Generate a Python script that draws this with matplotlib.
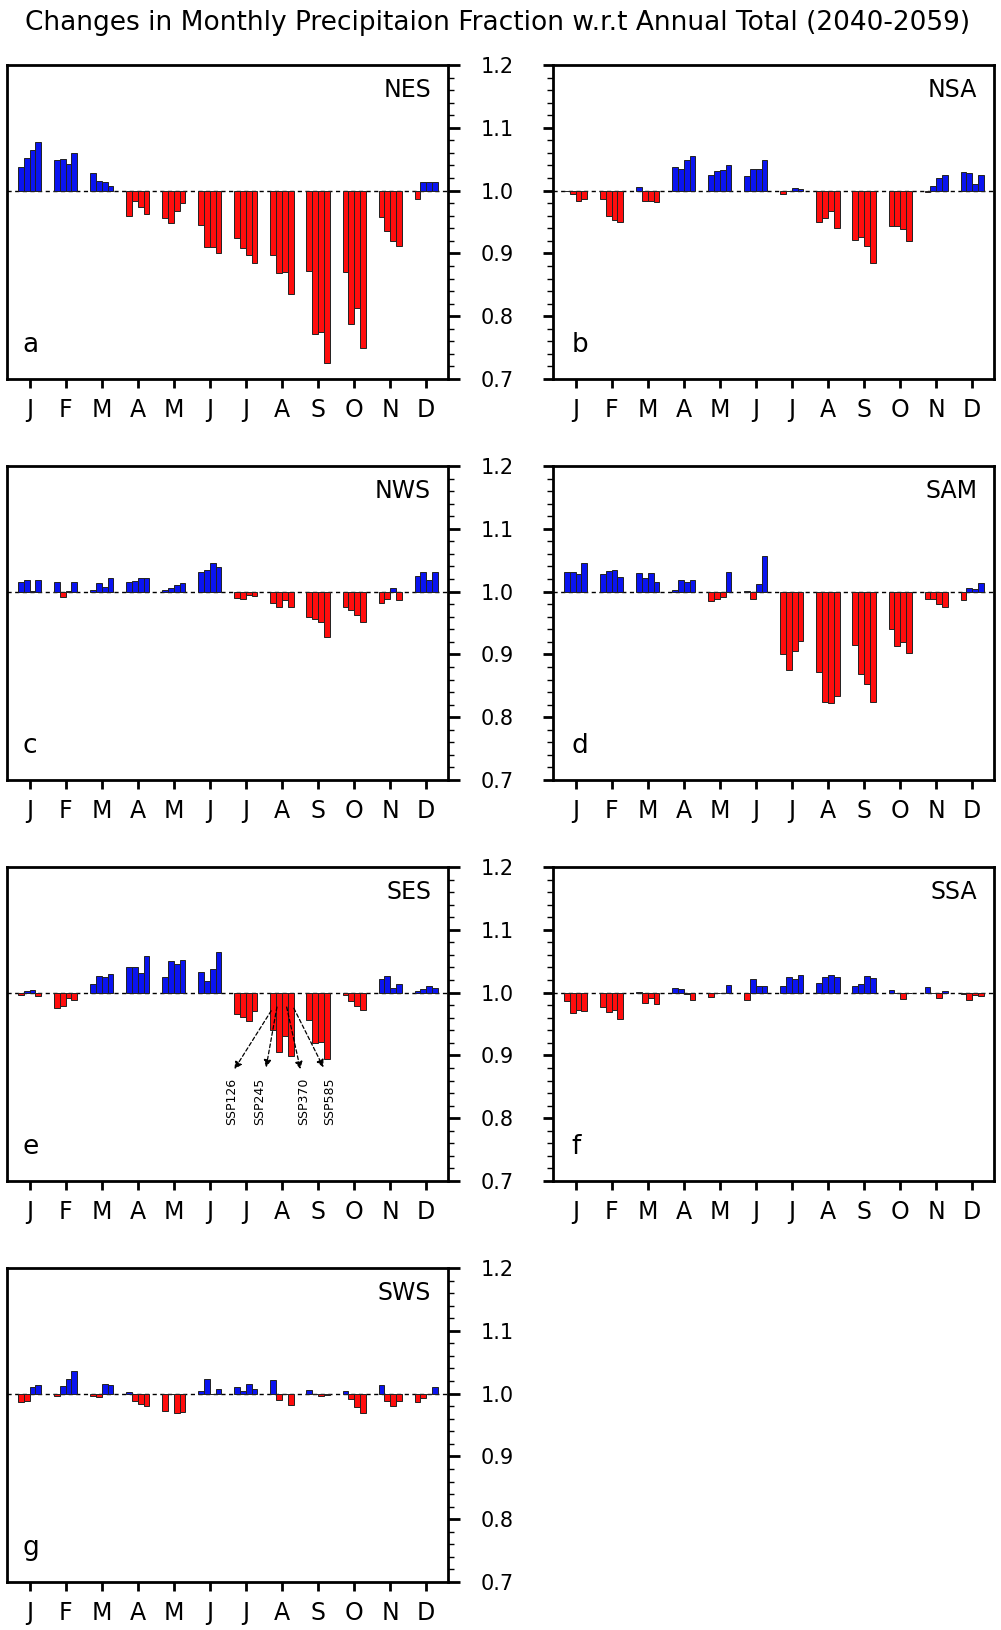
import numpy as np
import matplotlib
matplotlib.use('Agg')
from matplotlib import pyplot as plt

#----------------------------------------DATA-------------------------------------------#

months = ['J', 'F', 'M', 'A', 'M', 'J', 'J', 'A', 'S', 'O', 'N', 'D']
scenarios = ['SSP126', 'SSP245', 'SSP370', 'SSP585']
title = 'Changes in Monthly Precipitaion Fraction w.r.t Annual Total (2040-2059)'

# each row is one month, columns are SSP126, SSP245, SSP370, SSP585
nes = [[1.038, 1.052, 1.064, 1.078],
       [1.048, 1.051, 1.043, 1.060],
       [1.028, 1.015, 1.014, 1.008],
       [0.959, 0.983, 0.974, 0.962],
       [0.957, 0.948, 0.968, 0.981],
       [0.946, 0.910, 0.910, 0.900],
       [0.924, 0.909, 0.898, 0.884],
       [0.897, 0.868, 0.870, 0.835],
       [0.872, 0.772, 0.775, 0.725],
       [0.871, 0.788, 0.813, 0.749],
       [0.958, 0.935, 0.920, 0.911],
       [0.987, 1.013, 1.013, 1.013]]

nsa = [[0.999, 0.994, 0.984, 0.986],
       [0.986, 0.959, 0.953, 0.950],
       [1.005, 0.983, 0.983, 0.982],
       [1.037, 1.034, 1.049, 1.055],
       [1.025, 1.032, 1.033, 1.040],
       [1.024, 1.035, 1.035, 1.048],
       [0.994, 1.000, 1.004, 1.003],
       [0.950, 0.956, 0.968, 0.941],
       [0.921, 0.926, 0.911, 0.885],
       [0.944, 0.943, 0.939, 0.919],
       [0.998, 1.008, 1.020, 1.025],
       [1.029, 1.028, 1.011, 1.025]]

nws = [[1.015, 1.019, 1.001, 1.019],
       [1.015, 0.992, 1.001, 1.015],
       [1.003, 1.014, 1.008, 1.022],
       [1.016, 1.017, 1.021, 1.022],
       [1.003, 1.006, 1.010, 1.014],
       [1.032, 1.035, 1.045, 1.039],
       [0.990, 0.989, 0.994, 0.993],
       [0.982, 0.976, 0.986, 0.975],
       [0.960, 0.957, 0.951, 0.928],
       [0.976, 0.970, 0.962, 0.951],
       [0.982, 0.989, 1.005, 0.987],
       [1.025, 1.031, 1.018, 1.031]]

sam = [[1.031, 1.031, 1.028, 1.045],
       [1.028, 1.033, 1.034, 1.024],
       [1.029, 1.021, 1.029, 1.015],
       [1.002, 1.019, 1.016, 1.018],
       [0.985, 0.988, 0.992, 1.031],
       [1.001, 0.988, 1.012, 1.056],
       [0.901, 0.875, 0.906, 0.922],
       [0.872, 0.825, 0.822, 0.833],
       [0.915, 0.868, 0.853, 0.824],
       [0.940, 0.914, 0.919, 0.903],
       [0.988, 0.989, 0.980, 0.976],
       [0.986, 1.005, 1.004, 1.014]]

ses = [[0.996, 1.003, 1.004, 0.995],
       [0.976, 0.979, 0.992, 0.989],
       [1.013, 1.027, 1.025, 1.030],
       [1.040, 1.040, 1.032, 1.058],
       [1.025, 1.050, 1.045, 1.052],
       [1.033, 1.018, 1.038, 1.064],
       [0.966, 0.961, 0.955, 0.971],
       [0.941, 0.906, 0.931, 0.899],
       [0.956, 0.920, 0.921, 0.894],
       [0.996, 0.987, 0.978, 0.973],
       [1.022, 1.027, 1.007, 1.014],
       [1.002, 1.006, 1.010, 1.007]]

ssa = [[0.987, 0.967, 0.973, 0.971],
       [0.977, 0.969, 0.973, 0.958],
       [1.001, 0.984, 0.991, 0.982],
       [1.007, 1.006, 0.998, 0.989],
       [0.993, 0.999, 0.999, 1.012],
       [0.989, 1.022, 1.010, 1.010],
       [1.010, 1.025, 1.021, 1.028],
       [1.016, 1.025, 1.028, 1.025],
       [1.010, 1.013, 1.026, 1.023],
       [1.004, 0.999, 0.990, 0.999],
       [1.009, 0.999, 0.991, 1.003],
       [0.998, 0.988, 0.996, 0.994]]

sws = [[0.986, 0.989, 1.011, 1.014],
       [0.996, 1.012, 1.024, 1.036],
       [0.996, 0.995, 1.016, 1.013],
       [1.003, 0.989, 0.983, 0.980],
       [0.973, 1.000, 0.969, 0.970],
       [1.004, 1.024, 1.000, 1.008],
       [1.011, 1.004, 1.016, 1.007],
       [1.021, 0.990, 1.000, 0.982],
       [1.005, 1.000, 0.996, 0.997],
       [1.004, 0.992, 0.978, 0.969],
       [1.013, 0.988, 0.981, 0.989],
       [0.986, 0.993, 1.000, 1.011]]

panels = [('NES', 'a', nes), ('NSA', 'b', nsa), ('NWS', 'c', nws), ('SAM', 'd', sam),
          ('SES', 'e', ses), ('SSA', 'f', ssa), ('SWS', 'g', sws)]

# arrow annotations on panel e (start on the August bars, end above the labels)
arrow_start_x = [6.70, 6.86, 7.13, 7.33]
arrow_start_y = [0.971, 0.977, 0.977, 0.975]
arrow_end_x = [5.68, 6.56, 7.51, 8.15]
arrow_end_y = [0.878, 0.881, 0.878, 0.881]
label_x = [5.59, 6.38, 7.60, 8.32]
label_y = 0.865

#----------------------------------------PLOT-------------------------------------------#

plt.rcParams['font.family'] = ['DejaVu Sans']

W, H = 1001, 1630
fig = plt.figure(figsize=(W / 100, H / 100), dpi=100)

col_left = [7.3, 553.3]
ax_w = 440.5
row_top = [65, 466, 867, 1268]
ax_h = 314

x = np.arange(12)
bar_w = 0.16
offsets = (np.arange(4) - 1.5) * bar_w

for i, (name, letter, vals) in enumerate(panels):
    row, col = divmod(i, 2)
    left = col_left[col] / W
    bottom = 1 - (row_top[row] + ax_h) / H
    ax = fig.add_axes([left, bottom, ax_w / W, ax_h / H])

    vals = np.array(vals)
    for k in range(4):
        v = vals[:, k]
        colors = ['#0a14f0' if d >= 1.0 else '#ff0d0d' for d in v]
        ax.bar(x + offsets[k], v - 1.0, bottom=1.0, width=bar_w, color=colors,
               edgecolor='#222222', linewidth=0.7, zorder=3)

    ax.axhline(1.0, color='black', linewidth=1.0, linestyle=(0, (3, 2.5)), zorder=1)

    ax.set_xlim(-0.62, 11.6)
    ax.set_ylim(0.7, 1.2)
    ax.set_xticks(x)
    ax.set_xticklabels(months, fontsize=17)
    ax.set_yticks(np.arange(0.7, 1.21, 0.1))
    ax.set_yticks(np.arange(0.7, 1.201, 0.02), minor=True)
    ax.tick_params(axis='x', direction='out', length=6.5, width=2, pad=7)

    if col == 0:
        ax.yaxis.tick_right()
        ax.tick_params(axis='y', which='major', direction='out', length=8.5, width=2,
                       pad=15, labelsize=15, right=True, left=False)
        ax.tick_params(axis='y', which='minor', direction='out', length=4.5, width=1,
                       right=True, left=False)
        ax.set_yticklabels(['0.7', '0.8', '0.9', '1.0', '1.1', '1.2'])
        for lab in ax.get_yticklabels():
            lab.set_horizontalalignment('left')
    else:
        ax.tick_params(axis='y', which='major', direction='out', length=7.5, width=2,
                       labelleft=False)
        ax.tick_params(axis='y', which='minor', direction='out', length=4.5, width=1)

    for s in ax.spines.values():
        s.set_linewidth(2)

    ax.text(0.962, 0.92, name, transform=ax.transAxes, ha='right', va='center', fontsize=17)
    ax.text(0.035 if col == 0 else 0.042, 0.108, letter, transform=ax.transAxes,
            ha='left', va='center', fontsize=19)

    if name == 'SES':
        for k in range(4):
            ax.annotate('', xy=(arrow_end_x[k], arrow_end_y[k]),
                        xytext=(arrow_start_x[k], arrow_start_y[k]),
                        arrowprops=dict(arrowstyle='-|>', color='black', linewidth=0.9,
                                        linestyle=(0, (3, 2)), mutation_scale=11,
                                        shrinkA=0, shrinkB=0), zorder=4)
            ax.text(label_x[k], label_y, scenarios[k], rotation=90, ha='center', va='top',
                    fontsize=9, zorder=4)

fig.text(0.4975, 0.986, title, ha='center', va='center', fontsize=19)

fig.savefig('out.png', dpi=100)
